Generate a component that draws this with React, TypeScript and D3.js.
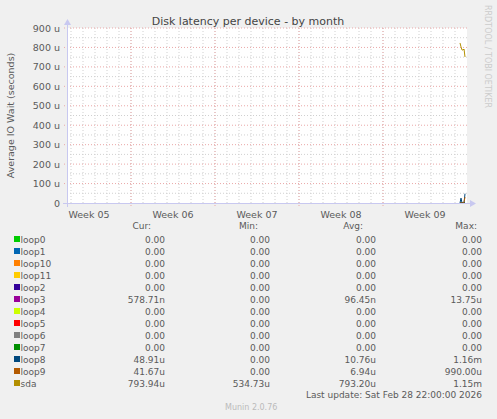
import * as d3 from 'd3'
import React from "react";

// time of each sample (2 hour steps, only the last few carry data)
const times = ["2026-03-01T10:00:00Z", "2026-03-01T12:00:00Z", "2026-03-01T14:00:00Z", "2026-03-01T16:00:00Z", "2026-03-01T18:00:00Z", "2026-03-01T20:00:00Z"];

const devices = ["loop0", "loop1", "loop10", "loop11", "loop2", "loop3", "loop4", "loop5", "loop6", "loop7", "loop8", "loop9", "sda"];
const colors = ["#00CC00", "#0066B3", "#FF8000", "#FFCC00", "#330099", "#990099", "#CCFF00", "#FF0000", "#808080", "#008F00", "#00487D", "#B35A00", "#B38F00"];

// values in microseconds
const loop8 = [0, 25, 0, 0, 0, 48];
const loop9 = [0, 0, 0, 0, 4, 30];
const sda = [823, 803, 787, 787, 792, 751];
const zeros = [0, 0, 0, 0, 0, 0];

const curCol = ["0.00", "0.00", "0.00", "0.00", "0.00", "578.71n", "0.00", "0.00", "0.00", "0.00", "48.91u", "41.67u", "793.94u"];
const minCol = ["0.00", "0.00", "0.00", "0.00", "0.00", "0.00", "0.00", "0.00", "0.00", "0.00", "0.00", "0.00", "534.73u"];
const avgCol = ["0.00", "0.00", "0.00", "0.00", "0.00", "96.45n", "0.00", "0.00", "0.00", "0.00", "10.76u", "6.94u", "793.20u"];
const maxCol = ["0.00", "0.00", "0.00", "0.00", "0.00", "13.75u", "0.00", "0.00", "0.00", "0.00", "1.16m", "990.00u", "1.15m"];

const yTicks = [0, 100, 200, 300, 400, 500, 600, 700, 800, 900];
const weekLabels = ["Week 05", "Week 06", "Week 07", "Week 08", "Week 09"];

const W = 497, H = 419;
const left = 67, right = 467, top = 28, bottom = 203;
const font = "'DejaVu Sans', sans-serif";
const txt = "#5a5a5a";

const App: React.FC = () => {
    const x = d3.scaleUtc()
        .domain([new Date("2026-01-27T16:00:00Z"), new Date("2026-03-02T00:00:00Z")])
        .range([left, right]);
    const y = d3.scaleLinear().domain([0, 900]).range([bottom, top]);

    const series = devices.map(d => {
        if (d === "loop8") return loop8;
        if (d === "loop9") return loop9;
        if (d === "sda") return sda;
        return zeros;
    });

    const line = d3.line<number>()
        .x((_, i) => x(new Date(times[i])))
        .y(v => y(v));

    const [t0, t1] = x.domain();
    const days = d3.utcDay.range(t0, t1);
    const mondays = d3.utcMonday.range(t0, t1);
    const weekStarts = d3.utcMonday.range(d3.utcMonday.floor(t0), t1);
    const weekMid = weekStarts.map(m => d3.utcHour.offset(m, 84));
    const minorY = d3.range(50, 900, 100);

    const rowY = (i: number) => 239 + i * 12;

    return (
        <svg width={W} height={H} style={{ position: 'absolute', left: 0, top: 0 }} fontFamily={font}>
            <rect width={W} height={H} fill="#F0F0F0" />
            <rect x={left} y={top} width={right - left} height={bottom - top} fill="#FFFFFF" />

            {days.map((d, i) => (
                <line key={'vd' + i} x1={x(d)} x2={x(d)} y1={top} y2={bottom} stroke="#d0d0d0" strokeWidth={1} strokeDasharray="1,2" />
            ))}
            {minorY.map((v, i) => (
                <line key={'hm' + i} x1={left} x2={right} y1={y(v)} y2={y(v)} stroke="#d0d0d0" strokeWidth={1} strokeDasharray="1,2" />
            ))}
            {mondays.map((d, i) => (
                <line key={'vm' + i} x1={x(d)} x2={x(d)} y1={top} y2={bottom + 3} stroke="#eaa8a8" strokeWidth={1} strokeDasharray="1,2" />
            ))}
            {yTicks.slice(1).map((v, i) => (
                <line key={'hM' + i} x1={left - 3} x2={right} y1={y(v)} y2={y(v)} stroke="#eaa8a8" strokeWidth={1} strokeDasharray="1,2" />
            ))}

            {series.map((s, i) => (
                <path key={'s' + i} d={line(s) ?? ''} fill="none" stroke={colors[i]} strokeWidth={1} />
            ))}

            {/* axes */}
            <line x1={left - 4} x2={right + 3} y1={bottom + 0.5} y2={bottom + 0.5} stroke="#c8c8f0" strokeWidth={1} />
            <path d={`M${right + 3},${bottom - 3} L${right + 9},${bottom + 0.5} L${right + 3},${bottom + 4} Z`} fill="#c8c8f0" />
            <line x1={left + 0.5} x2={left + 0.5} y1={bottom + 4} y2={top - 3} stroke="#c8c8f0" strokeWidth={1} />
            <path d={`M${left - 3},${top - 3} L${left + 0.5},${top - 9} L${left + 4},${top - 3} Z`} fill="#c8c8f0" />

            {yTicks.map((v, i) => (
                <text key={'yt' + i} x={60} y={y(v) + 3.5} textAnchor="end" fontSize={9.5} fill={txt}>
                    {v === 0 ? "0" : `${v} u`}
                </text>
            ))}
            {weekMid.map((d, i) => (
                <text key={'wk' + i} x={x(d)} y={218} textAnchor="middle" fontSize={9.5} fill={txt}>{weekLabels[i]}</text>
            ))}

            <text x={248} y={25} textAnchor="middle" fontSize={11} fill="#444444">Disk latency per device - by month</text>
            <text transform={`translate(14,${(top + bottom) / 2}) rotate(-90)`} textAnchor="middle" fontSize={9.5} fill={txt}>Average IO Wait (seconds)</text>
            <text transform="translate(485,5) rotate(90)" fontSize={8} fill="#cccccc">RRDTOOL / TOBI OETIKER</text>

            {/* legend */}
            <text x={151} y={229} fontSize={9} fill={txt} textAnchor="end">Cur:</text>
            <text x={258} y={229} fontSize={9} fill={txt} textAnchor="end">Min:</text>
            <text x={363} y={229} fontSize={9} fill={txt} textAnchor="end">Avg:</text>
            <text x={477} y={229} fontSize={9} fill={txt} textAnchor="end">Max:</text>
            {devices.map((d, i) => (
                <g key={'lg' + i}>
                    <rect x={14} y={rowY(i) - 3} width={6} height={6} fill={colors[i]} />
                    <text x={20.5} y={rowY(i) + 3.5} fontSize={9} fill={txt}>{d}</text>
                    <text x={165} y={rowY(i) + 3.5} fontSize={9} fill={txt} textAnchor="end">{curCol[i]}</text>
                    <text x={270} y={rowY(i) + 3.5} fontSize={9} fill={txt} textAnchor="end">{minCol[i]}</text>
                    <text x={376} y={rowY(i) + 3.5} fontSize={9} fill={txt} textAnchor="end">{avgCol[i]}</text>
                    <text x={482} y={rowY(i) + 3.5} fontSize={9} fill={txt} textAnchor="end">{maxCol[i]}</text>
                </g>
            ))}
            <text x={482} y={398} fontSize={9} fill={txt} textAnchor="end">Last update: Sat Feb 28 22:00:00 2026</text>
            <text x={225} y={410} fontSize={8} fill="#bbbbbb">Munin 2.0.76</text>
        </svg>
    );
}

export default App;
